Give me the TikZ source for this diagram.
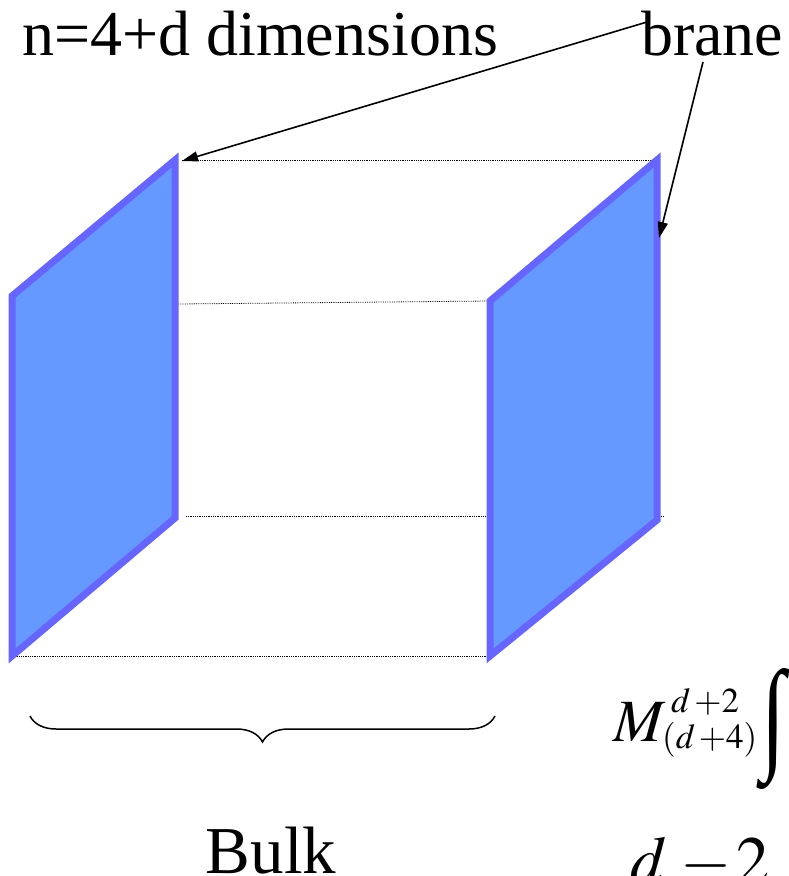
\documentclass[tikz,border=0pt]{standalone}
\usepackage{mathptmx}
\usepackage{graphicx}
\usepackage{fontspec}
\setmainfont{Liberation Serif}
\newfontfamily\timesf{Liberation Serif}
\usetikzlibrary{arrows.meta,decorations.pathreplacing}
\definecolor{branefill}{HTML}{6699FF}
\definecolor{braneedge}{HTML}{6666FF}
\begin{document}
\begin{tikzpicture}[x=1pt,y=-1pt,
  brane/.style={fill=branefill,draw=braneedge,line width=7pt,line join=miter},
  dotline/.style={densely dotted,line width=0.8pt},
  edge/.style={line width=1pt,black},
  pointer/.style={line width=1.6pt,-{Triangle[length=16pt,width=10pt]}},
  big/.style={font=\timesf\fontsize{64}{70}\selectfont,inner sep=0pt},
  mbig/.style={inner sep=0pt,anchor=base west,font=\fontsize{64}{70}\selectfont},
  msmall/.style={inner sep=0pt,anchor=base west,font=\fontsize{35}{40}\selectfont}]
\useasboundingbox (0,0) rectangle (788,876);
% cube edges
\coordinate (A1) at (12,296); \coordinate (A2) at (175,160);
\coordinate (A3) at (175,518); \coordinate (A4) at (12,656);
\coordinate (B1) at (490,301); \coordinate (B2) at (657,160);
\coordinate (B3) at (657,520); \coordinate (B4) at (490,656);
\draw[edge] (A4) -- (A3);
\draw[edge] (B1) -- (B2);
\draw[dotline] (182,160) -- (B2);
\draw[dotline] (178,304) -- (B1);
\draw[dotline] (186,516) -- (664,516);
\draw[dotline] (A4) -- (B4);
% branes
\draw[brane] (A1) -- (A2) -- (A3) -- (A4) -- cycle;
\draw[brane] (B1) -- (B2) -- (B3) -- (B4) -- cycle;
% labels
\node[big,anchor=base west] (dim) at (22,55) {n=4+d dimensions};
\node[big,anchor=base west] (brane) at (641,55) {brane};
\coordinate (p1) at (647,22);
\coordinate (p2) at (703,62);
\coordinate (t1) at (182,161);
\coordinate (t2) at (659,238);
\draw[pointer] (p1) -- (t1);
\draw[pointer] (p2) -- (t2);
% brace
\coordinate (bl) at (30,716);
\coordinate (br) at (495,716);
\draw[line width=1.5pt,decorate,decoration={brace,mirror,amplitude=26pt}] (bl) -- (br);
\node[anchor=base,inner sep=0pt,font=\timesf\fontsize{67}{72}\selectfont] (bulk) at (271,873) {Bulk};
% formulas
\node[mbig,font=\fontsize{60}{66}\selectfont] (M) at (613,741) {$M$};
\node[msmall] (msup) at (671,712) {$d\,{+}2$};
\node[msmall] (msub) at (662,748) {$(d\,{+}4)$};
\node[inner sep=0pt] (int) at (773,729) {\resizebox{24pt}{88pt}{\timesf ∫}};
\node[mbig,font=\fontsize{66}{72}\selectfont] (dd) at (630,882) {$d$};
\node[mbig,font=\fontsize{66}{72}\selectfont] (minus) at (680,882) {$-$};
\node[mbig,font=\fontsize{66}{72}\selectfont] (two) at (736,882) {$2$};
\end{tikzpicture}
\end{document}
